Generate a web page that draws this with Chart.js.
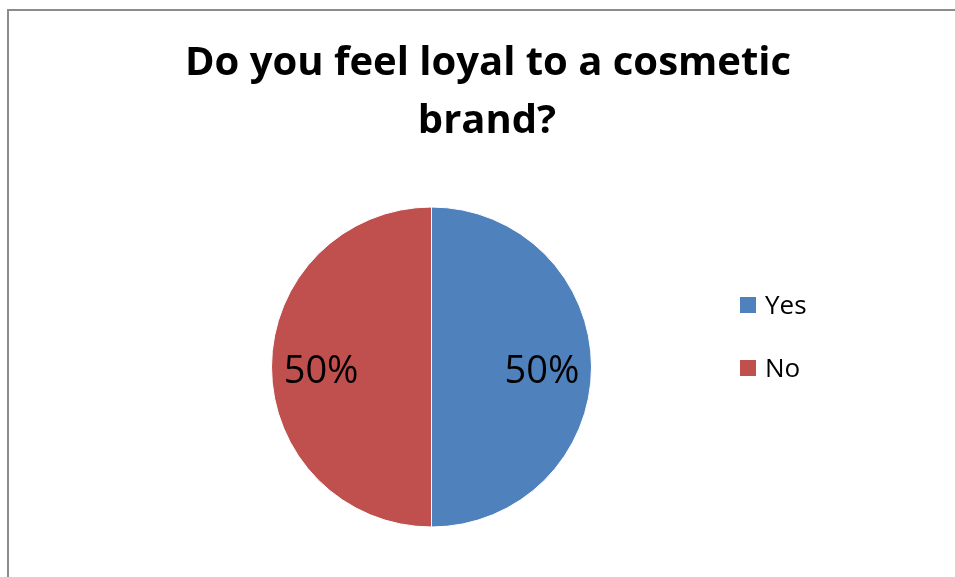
<!DOCTYPE html>
<html>
<head>
<meta charset="utf-8">
<title>Loyalty pie</title>
<script src="https://cdn.jsdelivr.net/npm/chart.js@4.4.1/dist/chart.umd.min.js"></script>
<style>
  html, body { margin: 0; padding: 0; background: #fff; }
  canvas { display: block; }
</style>
</head>
<body>
<canvas id="loyalChart" width="955" height="577"></canvas>
<script>
// Survey answers
const answers = ['Yes', 'No'];
const shares = [50, 50];
const sliceColors = ['#4F81BD', '#C0504D'];
const titleLines = ['Do you feel loyal to a cosmetic', 'brand?'];

const FONT = '"Open Sans", Calibri, sans-serif';

// frame, title, legend and percentage labels drawn on top of the pie
const decorPlugin = {
    id: 'decor',
    beforeDraw(chart) {
        const ctx = chart.ctx;
        ctx.save();
        ctx.fillStyle = '#fff';
        ctx.fillRect(0, 0, chart.width, chart.height);
        ctx.strokeStyle = '#8c8c8c';
        ctx.lineWidth = 2;
        ctx.beginPath();
        ctx.moveTo(8, chart.height);
        ctx.lineTo(8, 10);
        ctx.lineTo(chart.width, 10);
        ctx.stroke();
        ctx.restore();
    },
    afterDraw(chart) {
        const ctx = chart.ctx;
        ctx.save();
        // title
        ctx.fillStyle = '#000';
        ctx.textAlign = 'center';
        ctx.textBaseline = 'alphabetic';
        ctx.font = 'bold 40px ' + FONT;
        ctx.fillText(titleLines[0], 488, 75);
        ctx.fillText(titleLines[1], 487, 133);

        // legend
        const ds = chart.data.datasets[0];
        ctx.textAlign = 'left';
        ctx.font = '26px ' + FONT;
        chart.data.labels.forEach((lab, i) => {
            const y = 297 + i * 63;
            ctx.fillStyle = ds.backgroundColor[i];
            ctx.fillRect(740, y, 16, 16);
            ctx.fillStyle = '#000';
            ctx.fillText(lab, 765, y + 17);
        });

        // value labels inside the slices
        const meta = chart.getDatasetMeta(0);
        const total = ds.data.reduce((a, b) => a + b, 0);
        ctx.textAlign = 'center';
        ctx.font = '38px ' + FONT;
        meta.data.forEach((arc, i) => {
            const p = arc.getProps(['x', 'y', 'startAngle', 'endAngle', 'outerRadius'], true);
            const mid = (p.startAngle + p.endAngle) / 2;
            const r = p.outerRadius * 0.69;
            const x = p.x + Math.cos(mid) * r;
            const y = p.y + Math.sin(mid) * r;
            const pct = Math.round(ds.data[i] / total * 100) + '%';
            ctx.fillStyle = '#000';
            ctx.fillText(pct, x, y + 16);
        });
        ctx.restore();
    }
};

new Chart(document.getElementById('loyalChart').getContext('2d'), {
    type: 'pie',
    data: {
        labels: answers,
        datasets: [{
            data: shares,
            backgroundColor: sliceColors,
            borderColor: '#fff',
            borderWidth: 1
        }]
    },
    options: {
        responsive: false,
        animation: false,
        layout: { padding: { left: 271, right: 363, top: 206, bottom: 49 } },
        plugins: {
            legend: { display: false },
            title: { display: false },
            tooltip: { enabled: false }
        }
    },
    plugins: [decorPlugin]
});
</script>
</body>
</html>
